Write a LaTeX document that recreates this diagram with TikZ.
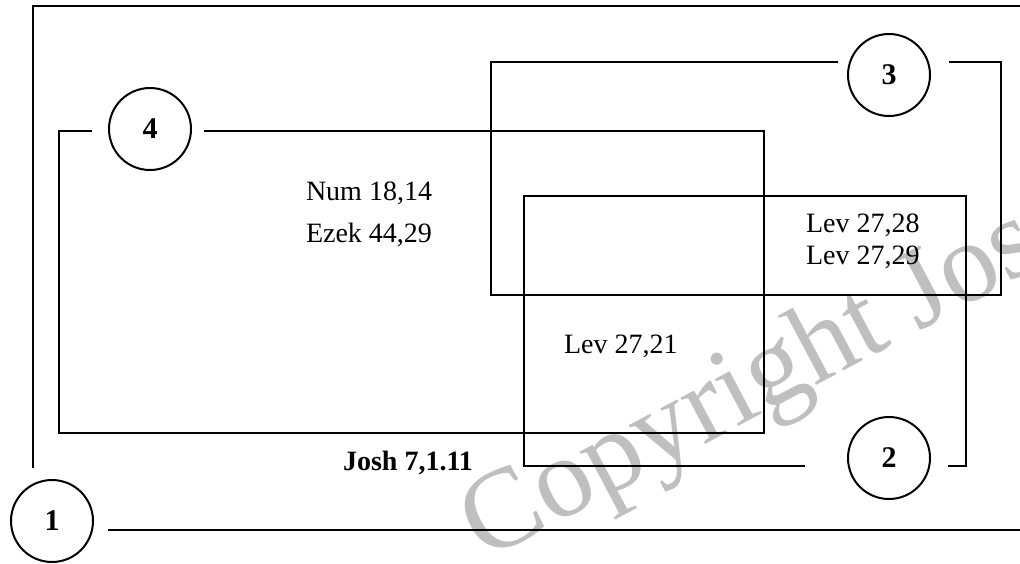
\documentclass[tikz,border=0pt]{standalone}
\usepackage{fontspec}
\setmainfont{Liberation Serif}
\begin{document}
\begin{tikzpicture}[x=1pt,y=-1pt,line width=2pt,
  num/.style={circle,draw,line width=2pt,minimum size=82pt,inner sep=0pt,font=\fontsize{30}{30}\selectfont\bfseries},
  reftext/.style={anchor=west,inner sep=0pt,font=\fontsize{28}{28}\selectfont},
  boldtext/.style={inner sep=0pt,font=\fontsize{28}{28}\selectfont\bfseries},
  wmark/.style={text=black!25,inner sep=0pt,font=\fontsize{114}{114}\selectfont},
  frameline/.style={line width=2pt,line join=miter}]
\useasboundingbox (0,0) rectangle (1020,563);
\clip (0,0) rectangle (1020,563);
% watermark
\node[wmark,anchor=base west,rotate=28] (wm) at (484,562) {Copyright Jos};
% circles
\node[num] (c1) at (52,521) {1};
\node[num] (c2) at (889,458) {2};
\node[num] (c3) at (889,75) {3};
\node[num] (c4) at (150,129) {4};
% frame 1
\coordinate (f1a) at (33,468);
\coordinate (f1b) at (33,6);
\coordinate (f1c) at (1030,6);
\coordinate (f1d) at (108,530);
\coordinate (f1e) at (1030,530);
\draw[frameline] (f1a) -- (f1b) -- (f1c);
\draw[frameline] (f1d) -- (f1e);
% box 4
\coordinate (b4a) at (92,131);
\coordinate (b4b) at (59,131);
\coordinate (b4c) at (59,433);
\coordinate (b4d) at (764,433);
\coordinate (b4e) at (764,131);
\coordinate (b4f) at (204,131);
\draw[frameline] (b4a) -- (b4b) -- (b4c) -- (b4d) -- (b4e) -- (b4f);
% box 3
\coordinate (b3a) at (838,62);
\coordinate (b3b) at (491,62);
\coordinate (b3c) at (491,295);
\coordinate (b3d) at (1001,295);
\coordinate (b3e) at (1001,62);
\coordinate (b3f) at (949,62);
\draw[frameline] (b3a) -- (b3b) -- (b3c) -- (b3d) -- (b3e) -- (b3f);
% box 2
\coordinate (b2a) at (805,466);
\coordinate (b2b) at (524,466);
\coordinate (b2c) at (524,196);
\coordinate (b2d) at (966,196);
\coordinate (b2e) at (966,466);
\coordinate (b2f) at (948,466);
\draw[frameline] (b2a) -- (b2b) -- (b2c) -- (b2d) -- (b2e) -- (b2f);
% texts
\node[reftext] (t1) at (305,193) {Num 18,14};
\node[reftext] (t2) at (305,235) {Ezek 44,29};
\node[reftext] (t3) at (805,225) {Lev 27,28};
\node[reftext] (t4) at (805,257) {Lev 27,29};
\node[reftext] (t5) at (563,346) {Lev 27,21};
\node[boldtext] (t6) at (408,463) {Josh 7,1.11};
\end{tikzpicture}
\end{document}
